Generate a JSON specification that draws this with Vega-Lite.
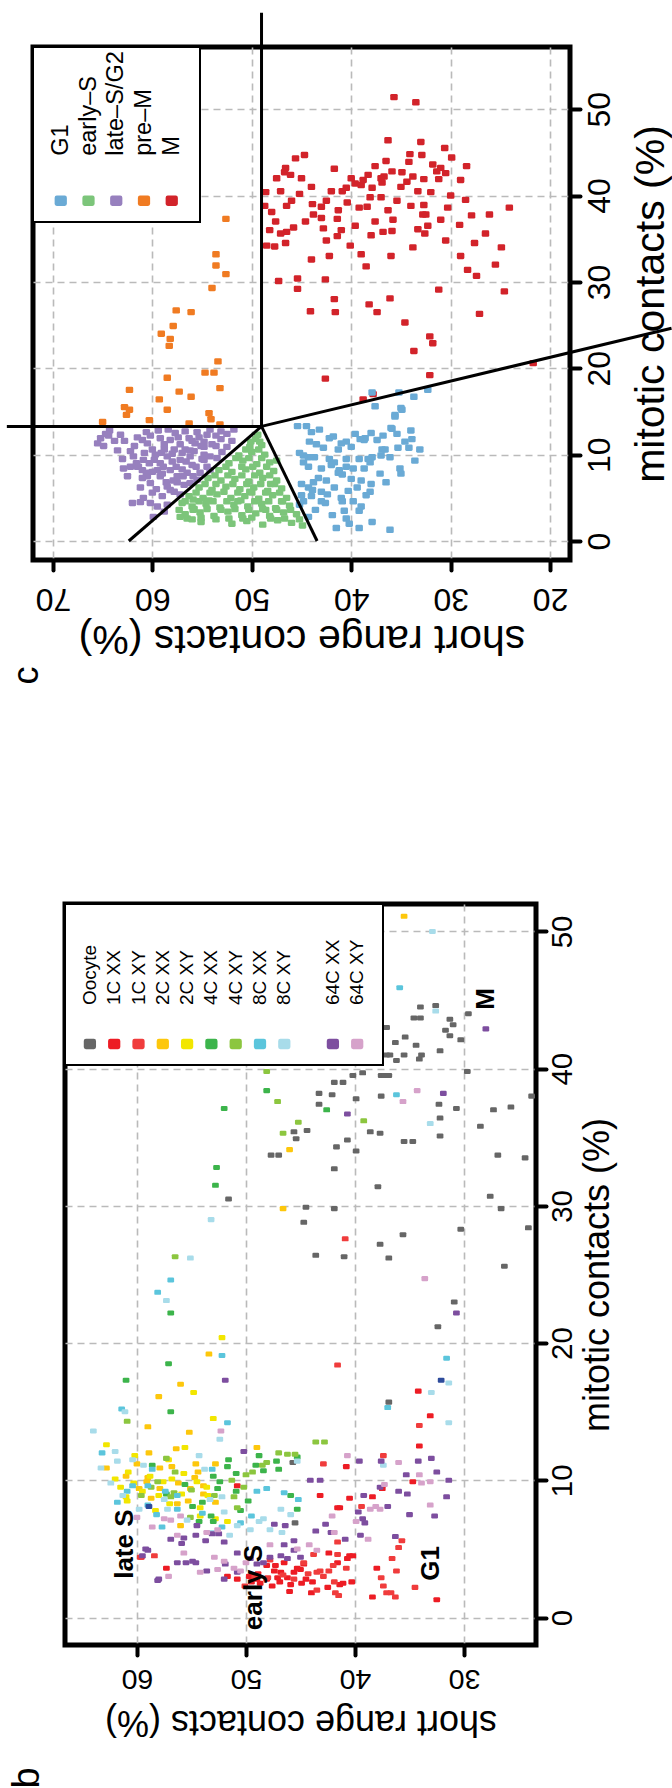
{
"$schema":"https://vega.github.io/schema/vega-lite/v6.json",
"background":"white",
"padding":{"left":2,"top":8,"right":0,"bottom":0},
"spacing":213,
"config":{
 "font":"Liberation Sans",
 "view":{"stroke":"black","strokeWidth":5},
 "axis":{"domain":false,"grid":true,"gridColor":"#bababa","gridDash":[7,5],"gridWidth":1.6,"tickColor":"black","tickWidth":4,"tickSize":10,"tickCap":"round","labelColor":"black","titleColor":"black","labelFont":"Liberation Sans","titleFont":"Liberation Sans","titleFontWeight":"normal","labelFlush":false,"labelOverlap":false,"labelBound":false},
 "title":{"font":"Liberation Sans","fontWeight":"normal","color":"black"}
},
"resolve":{"scale":{"x":"independent","y":"independent","color":"independent"},"axis":{"x":"independent","y":"independent"},"legend":{"color":"independent"}},
"vconcat":[
{
 "width":537,"height":513,
 "title":{"text":"c","orient":"bottom","anchor":"start","frame":"group","angle":270,"fontSize":36,"offset":14,"dx":-12,"dy":-23},
 "layer":[
 {"data":{"values":[
{"short":35.7,"mitotic":51.4,"phase":"M"},{"short":33.5,"mitotic":50.8,"phase":"M"},{"short":36.3,"mitotic":46.4,"phase":"M"},{"short":44.7,"mitotic":44.7,"phase":"M"},{"short":45.6,"mitotic":44.3,"phase":"M"},{"short":34.1,"mitotic":44.8,"phase":"M"},{"short":32.9,"mitotic":44.7,"phase":"M"},{"short":29.9,"mitotic":44.4,"phase":"M"},{"short":28.4,"mitotic":43.4,"phase":"M"},{"short":46.6,"mitotic":43.2,"phase":"M"},
{"short":46.7,"mitotic":42.7,"phase":"M"},{"short":46.1,"mitotic":42.4,"phase":"M"},{"short":47.5,"mitotic":42.0,"phase":"M"},{"short":45.0,"mitotic":42.0,"phase":"M"},{"short":41.7,"mitotic":43.1,"phase":"M"},{"short":38.3,"mitotic":42.4,"phase":"M"},{"short":37.6,"mitotic":43.4,"phase":"M"},{"short":36.7,"mitotic":42.2,"phase":"M"},{"short":35.9,"mitotic":42.8,"phase":"M"},{"short":34.2,"mitotic":43.9,"phase":"M"},
{"short":34.9,"mitotic":42.7,"phase":"M"},{"short":34.4,"mitotic":41.6,"phase":"M"},{"short":32.7,"mitotic":41.9,"phase":"M"},{"short":31.8,"mitotic":43.6,"phase":"M"},{"short":31.4,"mitotic":42.8,"phase":"M"},{"short":31.0,"mitotic":43.2,"phase":"M"},{"short":31.2,"mitotic":41.9,"phase":"M"},{"short":30.5,"mitotic":42.6,"phase":"M"},{"short":48.6,"mitotic":40.4,"phase":"M"},{"short":47.1,"mitotic":40.5,"phase":"M"},
{"short":48.7,"mitotic":38.8,"phase":"M"},{"short":48.0,"mitotic":38.1,"phase":"M"},{"short":43.9,"mitotic":39.0,"phase":"M"},{"short":43.0,"mitotic":38.7,"phase":"M"},{"short":43.8,"mitotic":37.8,"phase":"M"},{"short":43.0,"mitotic":37.4,"phase":"M"},{"short":42.5,"mitotic":39.4,"phase":"M"},{"short":41.3,"mitotic":38.3,"phase":"M"},{"short":40.9,"mitotic":40.5,"phase":"M"},{"short":40.5,"mitotic":40.9,"phase":"M"},
{"short":39.6,"mitotic":41.4,"phase":"M"},{"short":39.0,"mitotic":41.2,"phase":"M"},{"short":37.9,"mitotic":40.9,"phase":"M"},{"short":36.9,"mitotic":41.5,"phase":"M"},{"short":35.4,"mitotic":39.4,"phase":"M"},{"short":33.3,"mitotic":40.5,"phase":"M"},{"short":37.0,"mitotic":39.8,"phase":"M"},{"short":38.1,"mitotic":39.8,"phase":"M"},{"short":38.4,"mitotic":38.7,"phase":"M"},{"short":36.3,"mitotic":38.3,"phase":"M"},
{"short":32.7,"mitotic":38.9,"phase":"M"},{"short":32.5,"mitotic":37.8,"phase":"M"},{"short":31.0,"mitotic":37.2,"phase":"M"},{"short":29.1,"mitotic":36.6,"phase":"M"},{"short":27.9,"mitotic":37.7,"phase":"M"},{"short":26.1,"mitotic":37.8,"phase":"M"},{"short":24.1,"mitotic":38.6,"phase":"M"},{"short":39.6,"mitotic":36.5,"phase":"M"},{"short":41.4,"mitotic":37.3,"phase":"M"},{"short":42.5,"mitotic":34.8,"phase":"M"},
{"short":41.4,"mitotic":35.3,"phase":"M"},{"short":40.1,"mitotic":34.2,"phase":"M"},{"short":38.0,"mitotic":35.4,"phase":"M"},{"short":36.8,"mitotic":35.8,"phase":"M"},{"short":35.9,"mitotic":35.9,"phase":"M"},{"short":33.3,"mitotic":36.1,"phase":"M"},{"short":32.6,"mitotic":35.6,"phase":"M"},{"short":32.3,"mitotic":36.5,"phase":"M"},{"short":32.8,"mitotic":37.8,"phase":"M"},{"short":48.5,"mitotic":34.2,"phase":"M"},
{"short":47.7,"mitotic":34.1,"phase":"M"},{"short":46.6,"mitotic":34.5,"phase":"M"},{"short":45.8,"mitotic":36.3,"phase":"M"},{"short":46.5,"mitotic":35.8,"phase":"M"},{"short":47.1,"mitotic":35.6,"phase":"M"},{"short":38.5,"mitotic":31.8,"phase":"M"},{"short":42.2,"mitotic":33.0,"phase":"M"},{"short":28.3,"mitotic":31.4,"phase":"M"},{"short":27.4,"mitotic":30.7,"phase":"M"},{"short":27.6,"mitotic":34.5,"phase":"M"},
{"short":24.9,"mitotic":34.0,"phase":"M"},{"short":47.3,"mitotic":30.1,"phase":"M"},{"short":45.4,"mitotic":30.4,"phase":"M"},{"short":42.6,"mitotic":30.3,"phase":"M"},{"short":45.4,"mitotic":29.2,"phase":"M"},{"short":31.2,"mitotic":29.1,"phase":"M"},{"short":24.6,"mitotic":28.9,"phase":"M"},{"short":41.7,"mitotic":28.0,"phase":"M"},{"short":41.6,"mitotic":26.5,"phase":"M"},{"short":44.1,"mitotic":26.6,"phase":"M"},
{"short":38.2,"mitotic":27.4,"phase":"M"},{"short":37.4,"mitotic":26.5,"phase":"M"},{"short":36.1,"mitotic":28.1,"phase":"M"},{"short":34.6,"mitotic":25.3,"phase":"M"},{"short":27.1,"mitotic":26.3,"phase":"M"},{"short":32.1,"mitotic":23.7,"phase":"M"},{"short":31.8,"mitotic":22.9,"phase":"M"},{"short":33.7,"mitotic":22.0,"phase":"M"},{"short":32.1,"mitotic":19.2,"phase":"M"},{"short":42.6,"mitotic":18.8,"phase":"M"},
{"short":38.8,"mitotic":16.4,"phase":"M"},{"short":37.8,"mitotic":17.0,"phase":"M"},{"short":21.7,"mitotic":20.6,"phase":"M"},
{"short":40.0,"mitotic":42.0,"phase":"M"},{"short":38.8,"mitotic":41.8,"phase":"M"},{"short":37.0,"mitotic":42.0,"phase":"M"},{"short":35.0,"mitotic":41.0,"phase":"M"},{"short":33.8,"mitotic":42.2,"phase":"M"},{"short":32.0,"mitotic":40.4,"phase":"M"},{"short":30.0,"mitotic":40.0,"phase":"M"},{"short":29.0,"mitotic":41.8,"phase":"M"},{"short":28.5,"mitotic":39.5,"phase":"M"},{"short":30.3,"mitotic":38.6,"phase":"M"},
{"short":34.0,"mitotic":38.8,"phase":"M"},{"short":35.8,"mitotic":37.2,"phase":"M"},{"short":37.6,"mitotic":37.0,"phase":"M"},{"short":39.2,"mitotic":38.6,"phase":"M"},{"short":40.4,"mitotic":39.2,"phase":"M"},{"short":42.0,"mitotic":40.5,"phase":"M"},{"short":44.0,"mitotic":41.0,"phase":"M"},{"short":45.2,"mitotic":40.2,"phase":"M"},{"short":46.5,"mitotic":38.8,"phase":"M"},{"short":44.6,"mitotic":37.0,"phase":"M"},
{"short":42.8,"mitotic":36.2,"phase":"M"},{"short":41.0,"mitotic":36.0,"phase":"M"},{"short":39.0,"mitotic":33.2,"phase":"M"},{"short":36.0,"mitotic":33.0,"phase":"M"},{"short":33.8,"mitotic":34.0,"phase":"M"},{"short":30.5,"mitotic":34.8,"phase":"M"},{"short":29.0,"mitotic":33.0,"phase":"M"},{"short":26.5,"mitotic":35.6,"phase":"M"},{"short":25.5,"mitotic":32.0,"phase":"M"},{"short":44.0,"mitotic":32.6,"phase":"M"},
{"short":47.6,"mitotic":37.0,"phase":"M"},{"short":48.2,"mitotic":36.0,"phase":"M"},{"short":46.0,"mitotic":39.4,"phase":"M"},{"short":36.5,"mitotic":44.0,"phase":"M"},{"short":30.6,"mitotic":45.5,"phase":"M"},{"short":33.0,"mitotic":46.2,"phase":"M"},
{"short":52.6,"mitotic":37.3,"phase":"pre–M"},{"short":53.6,"mitotic":33.2,"phase":"pre–M"},{"short":53.6,"mitotic":31.9,"phase":"pre–M"},{"short":52.6,"mitotic":30.9,"phase":"pre–M"},{"short":54.0,"mitotic":29.3,"phase":"pre–M"},{"short":57.6,"mitotic":26.7,"phase":"pre–M"},{"short":56.1,"mitotic":26.5,"phase":"pre–M"},{"short":57.9,"mitotic":24.9,"phase":"pre–M"},{"short":59.1,"mitotic":24.0,"phase":"pre–M"},{"short":58.2,"mitotic":23.4,"phase":"pre–M"},
{"short":58.3,"mitotic":22.6,"phase":"pre–M"},{"short":53.4,"mitotic":20.8,"phase":"pre–M"},{"short":54.7,"mitotic":19.5,"phase":"pre–M"},{"short":53.8,"mitotic":19.5,"phase":"pre–M"},{"short":58.5,"mitotic":18.9,"phase":"pre–M"},{"short":62.3,"mitotic":17.5,"phase":"pre–M"},{"short":53.2,"mitotic":17.7,"phase":"pre–M"},{"short":57.3,"mitotic":17.3,"phase":"pre–M"},{"short":59.3,"mitotic":16.4,"phase":"pre–M"},{"short":56.1,"mitotic":16.7,"phase":"pre–M"},
{"short":58.5,"mitotic":15.2,"phase":"pre–M"},{"short":62.8,"mitotic":15.5,"phase":"pre–M"},{"short":62.3,"mitotic":15.2,"phase":"pre–M"},{"short":62.6,"mitotic":14.6,"phase":"pre–M"},{"short":60.3,"mitotic":14.0,"phase":"pre–M"},{"short":65.0,"mitotic":13.8,"phase":"pre–M"},{"short":56.3,"mitotic":13.6,"phase":"pre–M"},{"short":54.3,"mitotic":14.8,"phase":"pre–M"},{"short":54.1,"mitotic":14.1,"phase":"pre–M"},{"short":53.2,"mitotic":13.5,"phase":"pre–M"},
{"short":64.3,"mitotic":12.8,"phase":"late–S/G2"},{"short":63.2,"mitotic":12.3,"phase":"late–S/G2"},{"short":65.2,"mitotic":11.9,"phase":"late–S/G2"},{"short":65.5,"mitotic":11.3,"phase":"late–S/G2"},{"short":64.9,"mitotic":11.0,"phase":"late–S/G2"},{"short":64.4,"mitotic":12.2,"phase":"late–S/G2"},{"short":61.5,"mitotic":12.0,"phase":"late–S/G2"},{"short":60.2,"mitotic":12.2,"phase":"late–S/G2"},{"short":59.2,"mitotic":11.9,"phase":"late–S/G2"},{"short":58.2,"mitotic":11.7,"phase":"late–S/G2"},
{"short":57.7,"mitotic":12.5,"phase":"late–S/G2"},{"short":56.7,"mitotic":12.7,"phase":"late–S/G2"},{"short":55.3,"mitotic":12.0,"phase":"late–S/G2"},{"short":54.5,"mitotic":12.3,"phase":"late–S/G2"},{"short":53.1,"mitotic":12.7,"phase":"late–S/G2"},{"short":53.1,"mitotic":11.8,"phase":"late–S/G2"},{"short":52.5,"mitotic":10.9,"phase":"late–S/G2"},{"short":54.8,"mitotic":10.9,"phase":"late–S/G2"},{"short":55.7,"mitotic":11.3,"phase":"late–S/G2"},{"short":56.7,"mitotic":10.6,"phase":"late–S/G2"},
{"short":57.8,"mitotic":10.6,"phase":"late–S/G2"},{"short":58.8,"mitotic":10.6,"phase":"late–S/G2"},{"short":60.0,"mitotic":10.6,"phase":"late–S/G2"},{"short":60.5,"mitotic":11.3,"phase":"late–S/G2"},{"short":61.9,"mitotic":9.8,"phase":"late–S/G2"},{"short":62.2,"mitotic":8.6,"phase":"late–S/G2"},{"short":61.4,"mitotic":8.6,"phase":"late–S/G2"},{"short":60.9,"mitotic":9.4,"phase":"late–S/G2"},{"short":59.8,"mitotic":9.4,"phase":"late–S/G2"},{"short":59.2,"mitotic":9.0,"phase":"late–S/G2"},
{"short":58.5,"mitotic":9.8,"phase":"late–S/G2"},{"short":57.2,"mitotic":9.4,"phase":"late–S/G2"},{"short":56.2,"mitotic":9.8,"phase":"late–S/G2"},{"short":54.8,"mitotic":9.4,"phase":"late–S/G2"},{"short":54.2,"mitotic":9.8,"phase":"late–S/G2"},{"short":53.5,"mitotic":9.6,"phase":"late–S/G2"},{"short":58.2,"mitotic":8.2,"phase":"late–S/G2"},{"short":59.5,"mitotic":8.2,"phase":"late–S/G2"},{"short":60.5,"mitotic":7.5,"phase":"late–S/G2"},{"short":61.0,"mitotic":7.3,"phase":"late–S/G2"},
{"short":60.2,"mitotic":6.7,"phase":"late–S/G2"},{"short":59.2,"mitotic":7.5,"phase":"late–S/G2"},{"short":57.5,"mitotic":7.5,"phase":"late–S/G2"},{"short":56.5,"mitotic":7.9,"phase":"late–S/G2"},{"short":55.2,"mitotic":7.9,"phase":"late–S/G2"},{"short":54.2,"mitotic":8.2,"phase":"late–S/G2"},{"short":58.5,"mitotic":6.3,"phase":"late–S/G2"},{"short":57.8,"mitotic":5.7,"phase":"late–S/G2"},{"short":56.8,"mitotic":6.5,"phase":"late–S/G2"},{"short":57.2,"mitotic":5.4,"phase":"late–S/G2"},
{"short":58.2,"mitotic":5.9,"phase":"late–S/G2"},{"short":60.9,"mitotic":5.0,"phase":"late–S/G2"},{"short":62.0,"mitotic":4.4,"phase":"late–S/G2"},{"short":61.2,"mitotic":4.5,"phase":"late–S/G2"},{"short":60.2,"mitotic":4.4,"phase":"late–S/G2"},{"short":59.5,"mitotic":4.0,"phase":"late–S/G2"},{"short":58.5,"mitotic":4.2,"phase":"late–S/G2"},{"short":59.9,"mitotic":2.8,"phase":"late–S/G2"},{"short":58.8,"mitotic":3.4,"phase":"late–S/G2"},{"short":56.2,"mitotic":6.7,"phase":"late–S/G2"},
{"short":55.5,"mitotic":7.1,"phase":"late–S/G2"},{"short":54.5,"mitotic":8.6,"phase":"late–S/G2"},{"short":59.7,"mitotic":10.0,"phase":"late–S/G2"},{"short":61.5,"mitotic":8.6,"phase":"late–S/G2"},{"short":62.9,"mitotic":8.4,"phase":"late–S/G2"},{"short":57.0,"mitotic":10.2,"phase":"late–S/G2"},{"short":58.0,"mitotic":9.2,"phase":"late–S/G2"},{"short":56.0,"mitotic":8.8,"phase":"late–S/G2"},{"short":59.0,"mitotic":7.8,"phase":"late–S/G2"},{"short":57.5,"mitotic":6.8,"phase":"late–S/G2"},
{"short":55.8,"mitotic":10.4,"phase":"late–S/G2"},{"short":54.8,"mitotic":11.5,"phase":"late–S/G2"},{"short":58.8,"mitotic":11.2,"phase":"late–S/G2"},{"short":60.8,"mitotic":10.2,"phase":"late–S/G2"},{"short":61.8,"mitotic":11.0,"phase":"late–S/G2"},
{"short":63.5,"mitotic":10.5,"phase":"late–S/G2"},{"short":62.8,"mitotic":11.6,"phase":"late–S/G2"},{"short":63.0,"mitotic":9.5,"phase":"late–S/G2"},{"short":62.5,"mitotic":7.5,"phase":"late–S/G2"},{"short":61.2,"mitotic":6.2,"phase":"late–S/G2"},{"short":60.0,"mitotic":5.6,"phase":"late–S/G2"},{"short":59.0,"mitotic":5.2,"phase":"late–S/G2"},{"short":61.0,"mitotic":11.7,"phase":"late–S/G2"},{"short":60.3,"mitotic":9.0,"phase":"late–S/G2"},{"short":59.1,"mitotic":10.2,"phase":"late–S/G2"},
{"short":58.0,"mitotic":10.1,"phase":"late–S/G2"},{"short":57.2,"mitotic":11.2,"phase":"late–S/G2"},{"short":56.3,"mitotic":11.9,"phase":"late–S/G2"},{"short":55.5,"mitotic":12.6,"phase":"late–S/G2"},{"short":54.0,"mitotic":11.2,"phase":"late–S/G2"},{"short":53.6,"mitotic":11.0,"phase":"late–S/G2"},{"short":52.5,"mitotic":12.4,"phase":"late–S/G2"},{"short":51.8,"mitotic":12.9,"phase":"late–S/G2"},{"short":52.0,"mitotic":11.6,"phase":"late–S/G2"},{"short":53.0,"mitotic":10.3,"phase":"late–S/G2"},
{"short":54.8,"mitotic":10.0,"phase":"late–S/G2"},{"short":56.2,"mitotic":10.5,"phase":"late–S/G2"},{"short":57.6,"mitotic":8.6,"phase":"late–S/G2"},{"short":56.6,"mitotic":9.2,"phase":"late–S/G2"},{"short":55.6,"mitotic":8.6,"phase":"late–S/G2"},{"short":55.0,"mitotic":9.5,"phase":"late–S/G2"},{"short":58.6,"mitotic":6.8,"phase":"late–S/G2"},{"short":59.6,"mitotic":6.0,"phase":"late–S/G2"},{"short":60.6,"mitotic":7.9,"phase":"late–S/G2"},{"short":61.6,"mitotic":9.0,"phase":"late–S/G2"},
{"short":62.2,"mitotic":10.4,"phase":"late–S/G2"},{"short":60.6,"mitotic":12.6,"phase":"late–S/G2"},{"short":59.4,"mitotic":12.8,"phase":"late–S/G2"},{"short":58.4,"mitotic":12.9,"phase":"late–S/G2"},{"short":57.4,"mitotic":12.0,"phase":"late–S/G2"},{"short":56.0,"mitotic":11.6,"phase":"late–S/G2"},{"short":54.2,"mitotic":12.9,"phase":"late–S/G2"},{"short":53.6,"mitotic":12.2,"phase":"late–S/G2"},{"short":57.9,"mitotic":7.0,"phase":"late–S/G2"},{"short":56.9,"mitotic":7.5,"phase":"late–S/G2"},
{"short":55.9,"mitotic":7.5,"phase":"late–S/G2"},{"short":57.0,"mitotic":8.3,"phase":"late–S/G2"},{"short":55.1,"mitotic":11.0,"phase":"late–S/G2"},{"short":58.9,"mitotic":8.6,"phase":"late–S/G2"},{"short":60.0,"mitotic":8.0,"phase":"late–S/G2"},{"short":61.0,"mitotic":8.2,"phase":"late–S/G2"},{"short":63.8,"mitotic":11.6,"phase":"late–S/G2"},{"short":64.7,"mitotic":12.4,"phase":"late–S/G2"},
{"short":46.0,"mitotic":2.1,"phase":"early–S"},{"short":47.4,"mitotic":2.4,"phase":"early–S"},{"short":48.9,"mitotic":1.9,"phase":"early–S"},{"short":50.5,"mitotic":2.3,"phase":"early–S"},{"short":52.0,"mitotic":2.0,"phase":"early–S"},{"short":53.6,"mitotic":2.5,"phase":"early–S"},{"short":55.1,"mitotic":2.2,"phase":"early–S"},{"short":56.5,"mitotic":2.6,"phase":"early–S"},
{"short":45.5,"mitotic":3.1,"phase":"early–S"},{"short":46.8,"mitotic":3.3,"phase":"early–S"},{"short":48.2,"mitotic":2.9,"phase":"early–S"},{"short":49.6,"mitotic":3.2,"phase":"early–S"},{"short":51.0,"mitotic":3.0,"phase":"early–S"},{"short":52.4,"mitotic":3.4,"phase":"early–S"},{"short":53.8,"mitotic":2.9,"phase":"early–S"},{"short":55.2,"mitotic":3.3,"phase":"early–S"},{"short":56.7,"mitotic":3.1,"phase":"early–S"},
{"short":46.2,"mitotic":4.1,"phase":"early–S"},{"short":47.6,"mitotic":3.8,"phase":"early–S"},{"short":49.0,"mitotic":4.3,"phase":"early–S"},{"short":50.4,"mitotic":4.0,"phase":"early–S"},{"short":51.8,"mitotic":4.2,"phase":"early–S"},{"short":53.2,"mitotic":3.9,"phase":"early–S"},{"short":54.6,"mitotic":4.3,"phase":"early–S"},{"short":56.0,"mitotic":4.0,"phase":"early–S"},{"short":57.0,"mitotic":4.4,"phase":"early–S"},
{"short":46.5,"mitotic":5.0,"phase":"early–S"},{"short":47.9,"mitotic":5.3,"phase":"early–S"},{"short":49.3,"mitotic":4.9,"phase":"early–S"},{"short":50.7,"mitotic":5.2,"phase":"early–S"},{"short":52.1,"mitotic":5.0,"phase":"early–S"},{"short":53.5,"mitotic":5.4,"phase":"early–S"},{"short":54.9,"mitotic":5.0,"phase":"early–S"},{"short":56.3,"mitotic":5.2,"phase":"early–S"},
{"short":47.0,"mitotic":6.1,"phase":"early–S"},{"short":48.4,"mitotic":5.8,"phase":"early–S"},{"short":49.8,"mitotic":6.2,"phase":"early–S"},{"short":51.2,"mitotic":6.0,"phase":"early–S"},{"short":52.6,"mitotic":6.3,"phase":"early–S"},{"short":54.0,"mitotic":5.9,"phase":"early–S"},{"short":55.3,"mitotic":6.2,"phase":"early–S"},
{"short":47.5,"mitotic":7.0,"phase":"early–S"},{"short":48.9,"mitotic":7.3,"phase":"early–S"},{"short":50.3,"mitotic":6.9,"phase":"early–S"},{"short":51.7,"mitotic":7.2,"phase":"early–S"},{"short":53.1,"mitotic":7.0,"phase":"early–S"},{"short":54.4,"mitotic":7.3,"phase":"early–S"},
{"short":47.8,"mitotic":8.1,"phase":"early–S"},{"short":49.2,"mitotic":7.9,"phase":"early–S"},{"short":50.6,"mitotic":8.3,"phase":"early–S"},{"short":52.0,"mitotic":8.0,"phase":"early–S"},{"short":53.3,"mitotic":8.2,"phase":"early–S"},
{"short":48.2,"mitotic":9.1,"phase":"early–S"},{"short":49.5,"mitotic":8.9,"phase":"early–S"},{"short":50.9,"mitotic":9.3,"phase":"early–S"},{"short":52.3,"mitotic":9.0,"phase":"early–S"},
{"short":48.7,"mitotic":10.0,"phase":"early–S"},{"short":50.0,"mitotic":10.3,"phase":"early–S"},{"short":51.3,"mitotic":9.9,"phase":"early–S"},{"short":49.0,"mitotic":11.1,"phase":"early–S"},{"short":50.2,"mitotic":10.9,"phase":"early–S"},{"short":49.6,"mitotic":11.8,"phase":"early–S"},{"short":49.4,"mitotic":12.3,"phase":"early–S"},
{"short":45.2,"mitotic":2.5,"phase":"early–S"},{"short":47.0,"mitotic":4.6,"phase":"early–S"},{"short":48.6,"mitotic":3.6,"phase":"early–S"},{"short":50.0,"mitotic":2.7,"phase":"early–S"},{"short":51.4,"mitotic":4.6,"phase":"early–S"},{"short":52.8,"mitotic":5.7,"phase":"early–S"},{"short":54.3,"mitotic":4.7,"phase":"early–S"},{"short":55.8,"mitotic":3.7,"phase":"early–S"},{"short":57.2,"mitotic":2.8,"phase":"early–S"},{"short":48.1,"mitotic":6.6,"phase":"early–S"},
{"short":49.7,"mitotic":7.6,"phase":"early–S"},{"short":51.0,"mitotic":8.6,"phase":"early–S"},{"short":53.6,"mitotic":6.6,"phase":"early–S"},{"short":50.2,"mitotic":5.7,"phase":"early–S"},{"short":47.5,"mitotic":9.3,"phase":"early–S"},{"short":55.9,"mitotic":4.8,"phase":"early–S"},{"short":44.9,"mitotic":1.8,"phase":"early–S"},
{"short":46.7,"mitotic":2.6,"phase":"early–S"},{"short":48.1,"mitotic":2.6,"phase":"early–S"},{"short":50.9,"mitotic":2.6,"phase":"early–S"},{"short":52.3,"mitotic":2.6,"phase":"early–S"},{"short":55.1,"mitotic":2.7,"phase":"early–S"},{"short":56.0,"mitotic":2.5,"phase":"early–S"},
{"short":46.1,"mitotic":3.6,"phase":"early–S"},{"short":47.5,"mitotic":3.6,"phase":"early–S"},{"short":48.9,"mitotic":3.7,"phase":"early–S"},{"short":50.3,"mitotic":3.6,"phase":"early–S"},{"short":51.7,"mitotic":3.7,"phase":"early–S"},{"short":53.1,"mitotic":3.6,"phase":"early–S"},{"short":54.5,"mitotic":3.7,"phase":"early–S"},{"short":55.9,"mitotic":3.6,"phase":"early–S"},{"short":57.3,"mitotic":3.6,"phase":"early–S"},
{"short":46.9,"mitotic":4.6,"phase":"early–S"},{"short":48.3,"mitotic":4.6,"phase":"early–S"},{"short":49.7,"mitotic":4.6,"phase":"early–S"},{"short":51.1,"mitotic":4.7,"phase":"early–S"},{"short":52.5,"mitotic":4.6,"phase":"early–S"},{"short":53.9,"mitotic":4.6,"phase":"early–S"},{"short":55.3,"mitotic":4.6,"phase":"early–S"},{"short":56.7,"mitotic":4.6,"phase":"early–S"},
{"short":47.2,"mitotic":5.6,"phase":"early–S"},{"short":48.6,"mitotic":5.6,"phase":"early–S"},{"short":50.0,"mitotic":5.6,"phase":"early–S"},{"short":51.4,"mitotic":5.6,"phase":"early–S"},{"short":54.2,"mitotic":5.6,"phase":"early–S"},{"short":55.6,"mitotic":5.6,"phase":"early–S"},
{"short":47.7,"mitotic":6.6,"phase":"early–S"},{"short":49.1,"mitotic":6.6,"phase":"early–S"},{"short":50.5,"mitotic":6.6,"phase":"early–S"},{"short":51.9,"mitotic":6.6,"phase":"early–S"},{"short":54.7,"mitotic":6.6,"phase":"early–S"},
{"short":48.2,"mitotic":7.6,"phase":"early–S"},{"short":51.0,"mitotic":7.6,"phase":"early–S"},{"short":52.4,"mitotic":7.6,"phase":"early–S"},{"short":53.7,"mitotic":7.6,"phase":"early–S"},
{"short":48.5,"mitotic":8.6,"phase":"early–S"},{"short":49.9,"mitotic":8.6,"phase":"early–S"},{"short":52.6,"mitotic":8.6,"phase":"early–S"},{"short":49.0,"mitotic":9.6,"phase":"early–S"},{"short":50.3,"mitotic":9.6,"phase":"early–S"},{"short":51.6,"mitotic":9.6,"phase":"early–S"},{"short":49.3,"mitotic":10.6,"phase":"early–S"},{"short":50.6,"mitotic":10.6,"phase":"early–S"},{"short":49.2,"mitotic":11.5,"phase":"early–S"},{"short":50.1,"mitotic":11.5,"phase":"early–S"},
{"short":45.4,"mitotic":13.3,"phase":"G1"},{"short":44.5,"mitotic":13.3,"phase":"G1"},{"short":44.2,"mitotic":11.5,"phase":"G1"},{"short":42.2,"mitotic":11.9,"phase":"G1"},{"short":41.8,"mitotic":12.1,"phase":"G1"},{"short":40.5,"mitotic":11.5,"phase":"G1"},{"short":38.7,"mitotic":11.7,"phase":"G1"},{"short":38.6,"mitotic":11.9,"phase":"G1"},{"short":37.4,"mitotic":11.7,"phase":"G1"},{"short":35.9,"mitotic":13.0,"phase":"G1"},
{"short":34.9,"mitotic":15.2,"phase":"G1"},{"short":35.6,"mitotic":14.4,"phase":"G1"},{"short":33.9,"mitotic":11.8,"phase":"G1"},{"short":34.2,"mitotic":10.8,"phase":"G1"},{"short":33.1,"mitotic":10.6,"phase":"G1"},{"short":34.6,"mitotic":11.5,"phase":"G1"},{"short":36.6,"mitotic":10.6,"phase":"G1"},{"short":37.0,"mitotic":9.9,"phase":"G1"},{"short":37.9,"mitotic":9.7,"phase":"G1"},{"short":38.3,"mitotic":9.5,"phase":"G1"},
{"short":39.2,"mitotic":9.5,"phase":"G1"},{"short":40.5,"mitotic":9.5,"phase":"G1"},{"short":42.2,"mitotic":9.5,"phase":"G1"},{"short":43.7,"mitotic":9.7,"phase":"G1"},{"short":44.3,"mitotic":9.7,"phase":"G1"},{"short":44.8,"mitotic":9.9,"phase":"G1"},{"short":45.2,"mitotic":10.2,"phase":"G1"},{"short":37.9,"mitotic":17.2,"phase":"G1"},{"short":35.2,"mitotic":17.2,"phase":"G1"},{"short":33.7,"mitotic":16.7,"phase":"G1"},
{"short":32.3,"mitotic":17.5,"phase":"G1"},{"short":37.6,"mitotic":15.6,"phase":"G1"},{"short":44.8,"mitotic":9.1,"phase":"G1"},{"short":44.3,"mitotic":8.6,"phase":"G1"},{"short":43.0,"mitotic":8.4,"phase":"G1"},{"short":41.7,"mitotic":9.1,"phase":"G1"},{"short":43.3,"mitotic":7.3,"phase":"G1"},{"short":41.3,"mitotic":7.9,"phase":"G1"},{"short":40.9,"mitotic":7.7,"phase":"G1"},{"short":40.5,"mitotic":8.6,"phase":"G1"},
{"short":39.8,"mitotic":8.4,"phase":"G1"},{"short":38.7,"mitotic":8.4,"phase":"G1"},{"short":38.1,"mitotic":9.1,"phase":"G1"},{"short":37.1,"mitotic":7.8,"phase":"G1"},{"short":45.0,"mitotic":6.6,"phase":"G1"},{"short":44.3,"mitotic":6.2,"phase":"G1"},{"short":43.9,"mitotic":5.9,"phase":"G1"},{"short":43.0,"mitotic":5.7,"phase":"G1"},{"short":41.7,"mitotic":6.2,"phase":"G1"},{"short":39.4,"mitotic":6.2,"phase":"G1"},
{"short":38.1,"mitotic":5.7,"phase":"G1"},{"short":38.5,"mitotic":5.3,"phase":"G1"},{"short":44.8,"mitotic":4.6,"phase":"G1"},{"short":43.0,"mitotic":4.6,"phase":"G1"},{"short":42.6,"mitotic":4.4,"phase":"G1"},{"short":40.9,"mitotic":4.6,"phase":"G1"},{"short":39.8,"mitotic":4.6,"phase":"G1"},{"short":40.7,"mitotic":3.5,"phase":"G1"},{"short":39.2,"mitotic":3.5,"phase":"G1"},{"short":40.5,"mitotic":2.6,"phase":"G1"},
{"short":40.2,"mitotic":2.0,"phase":"G1"},{"short":41.5,"mitotic":1.5,"phase":"G1"},{"short":39.2,"mitotic":1.5,"phase":"G1"},{"short":37.9,"mitotic":2.2,"phase":"G1"},{"short":36.1,"mitotic":1.3,"phase":"G1"},{"short":44.3,"mitotic":2.8,"phase":"G1"},{"short":45.2,"mitotic":4.2,"phase":"G1"},{"short":36.1,"mitotic":9.7,"phase":"G1"},{"short":35.1,"mitotic":8.4,"phase":"G1"},{"short":35.0,"mitotic":7.8,"phase":"G1"},
{"short":33.6,"mitotic":9.3,"phase":"G1"},{"short":35.3,"mitotic":10.8,"phase":"G1"},{"short":36.9,"mitotic":10.6,"phase":"G1"},{"short":35.0,"mitotic":15.4,"phase":"G1"},{"short":35.6,"mitotic":14.6,"phase":"G1"},{"short":36.0,"mitotic":13.1,"phase":"G1"},{"short":39.1,"mitotic":11.8,"phase":"G1"},
{"short":44.0,"mitotic":12.6,"phase":"G1"},{"short":43.2,"mitotic":12.9,"phase":"G1"},{"short":42.8,"mitotic":10.8,"phase":"G1"},{"short":41.3,"mitotic":10.6,"phase":"G1"},{"short":40.0,"mitotic":10.9,"phase":"G1"},{"short":39.6,"mitotic":12.4,"phase":"G1"},{"short":38.0,"mitotic":12.5,"phase":"G1"},{"short":36.8,"mitotic":12.2,"phase":"G1"},{"short":35.4,"mitotic":12.4,"phase":"G1"},{"short":34.0,"mitotic":12.8,"phase":"G1"},
{"short":41.0,"mitotic":11.3,"phase":"G1"},{"short":43.5,"mitotic":11.2,"phase":"G1"},{"short":42.0,"mitotic":8.8,"phase":"G1"},{"short":41.2,"mitotic":8.2,"phase":"G1"},{"short":43.8,"mitotic":6.8,"phase":"G1"},{"short":42.5,"mitotic":7.0,"phase":"G1"},{"short":40.0,"mitotic":7.2,"phase":"G1"},{"short":39.0,"mitotic":7.0,"phase":"G1"},{"short":38.0,"mitotic":6.6,"phase":"G1"},{"short":36.5,"mitotic":6.8,"phase":"G1"},
{"short":44.0,"mitotic":5.2,"phase":"G1"},{"short":42.4,"mitotic":5.4,"phase":"G1"},{"short":41.0,"mitotic":5.0,"phase":"G1"},{"short":40.3,"mitotic":5.8,"phase":"G1"},{"short":39.0,"mitotic":4.0,"phase":"G1"},{"short":41.9,"mitotic":3.0,"phase":"G1"},{"short":43.6,"mitotic":3.6,"phase":"G1"},{"short":45.0,"mitotic":5.3,"phase":"G1"}
 ]},
 "mark":{"type":"point","filled":true,"opacity":1,"strokeWidth":0,"size":56,"shape":"M-0.65,-0.85L0.65,-0.85Q1,-0.85 1,-0.5L1,0.5Q1,0.85 0.65,0.85L-0.65,0.85Q-1,0.85 -1,0.5L-1,-0.5Q-1,-0.85 -0.65,-0.85Z"},
 "encoding":{
  "x":{"field":"short","type":"quantitative","scale":{"domain":[18,72],"reverse":true,"nice":false,"zero":false},
   "axis":{"title":"short range contacts (%)","values":[20,30,40,50,60,70],"labelAngle":180,"labelFontSize":32,"labelPadding":11.5,"titleFontSize":41,"titleAngle":180,"titleBaseline":"bottom","titlePadding":2}},
  "y":{"field":"mitotic","type":"quantitative","scale":{"domain":[-2.2,57.2],"nice":false,"zero":false},
   "axis":{"orient":"right","title":"mitotic contacts (%)","values":[0,10,20,30,40,50],"labelAngle":270,"labelFontSize":32,"labelPadding":4,"titleFontSize":41,"titleAngle":270,"titleBaseline":"top","titlePadding":16}},
  "color":{"field":"phase","type":"nominal",
   "scale":{"domain":["G1","early–S","late–S/G2","pre–M","M"],"range":["#6aaad5","#7cc57a","#9780be","#f07b22","#d2232a"]},
   "legend":{"orient":"top-left","offset":0,"direction":"horizontal","title":" ","titleFontSize":1,"titlePadding":125,"padding":16,"labelFontSize":23.5,"labelLimit":300,"labelFont":"Liberation Sans","labelColor":"black","labelOffset":-11.75,"columnPadding":2.75,"symbolType":"M-0.65,-0.85L0.65,-0.85Q1,-0.85 1,-0.5L1,0.5Q1,0.85 0.65,0.85L-0.65,0.85Q-1,0.85 -1,0.5L-1,-0.5Q-1,-0.85 -0.65,-0.85Z","symbolSize":150,"symbolOpacity":1,"symbolStrokeWidth":0,"strokeColor":"black","fillColor":"white",
    "encoding":{"labels":{"angle":{"value":270},"dx":{"value":45},"fontSize":{"value":23.5}},"symbols":{"size":{"value":150}},"legend":{"strokeWidth":{"value":2}}}}}
 }},
 {"data":{"values":[
  {"s1":49.02,"m1":13.27,"s2":49.02,"m2":61.16},
  {"s1":74.63,"m1":13.27,"s2":49.02,"m2":13.27},
  {"s1":49.02,"m1":13.27,"s2":62.37,"m2":0},
  {"s1":49.02,"m1":13.27,"s2":43.43,"m2":0},
  {"s1":49.02,"m1":13.27,"s2":7.79,"m2":24.64}
 ]},
 "mark":{"type":"rule","color":"black","strokeWidth":3},
 "encoding":{"x":{"field":"s1","type":"quantitative"},"y":{"field":"m1","type":"quantitative"},"x2":{"field":"s2"},"y2":{"field":"m2"}}}
 ]
},
{
 "hconcat":[
  {"width":32,"height":10,"view":{"stroke":null},"data":{"values":[]},"mark":"point"},
  {
   "width":471,"height":741,
   "title":{"text":"b","orient":"bottom","anchor":"start","frame":"group","angle":270,"fontSize":38,"offset":14,"dx":-35,"dy":-56},
   "layer":[
   {"data":{"values":[
{"short":34.0,"mitotic":44.5,"stage":"Oocyte"},{"short":32.6,"mitotic":44.6,"stage":"Oocyte"},{"short":34.6,"mitotic":43.7,"stage":"Oocyte"},{"short":34.0,"mitotic":43.7,"stage":"Oocyte"},{"short":31.3,"mitotic":43.6,"stage":"Oocyte"},{"short":31.0,"mitotic":43.2,"stage":"Oocyte"},{"short":31.7,"mitotic":42.8,"stage":"Oocyte"},{"short":31.3,"mitotic":42.4,"stage":"Oocyte"},{"short":30.3,"mitotic":42.1,"stage":"Oocyte"},{"short":29.6,"mitotic":44.0,"stage":"Oocyte"},
{"short":35.4,"mitotic":42.3,"stage":"Oocyte"},{"short":36.3,"mitotic":41.9,"stage":"Oocyte"},{"short":34.4,"mitotic":41.7,"stage":"Oocyte"},{"short":32.2,"mitotic":41.3,"stage":"Oocyte"},{"short":33.9,"mitotic":41.0,"stage":"Oocyte"},{"short":34.1,"mitotic":40.7,"stage":"Oocyte"},{"short":35.5,"mitotic":41.0,"stage":"Oocyte"},{"short":36.2,"mitotic":40.6,"stage":"Oocyte"},{"short":37.1,"mitotic":43.0,"stage":"Oocyte"},{"short":37.1,"mitotic":41.0,"stage":"Oocyte"},
{"short":36.8,"mitotic":41.0,"stage":"Oocyte"},{"short":29.7,"mitotic":39.8,"stage":"Oocyte"},{"short":37.6,"mitotic":39.5,"stage":"Oocyte"},{"short":37.3,"mitotic":39.5,"stage":"Oocyte"},{"short":36.9,"mitotic":39.5,"stage":"Oocyte"},{"short":40.2,"mitotic":39.5,"stage":"Oocyte"},{"short":39.3,"mitotic":39.7,"stage":"Oocyte"},{"short":41.1,"mitotic":39.0,"stage":"Oocyte"},{"short":37.6,"mitotic":38.0,"stage":"Oocyte"},{"short":39.9,"mitotic":37.8,"stage":"Oocyte"},
{"short":32.3,"mitotic":37.4,"stage":"Oocyte"},{"short":30.7,"mitotic":37.1,"stage":"Oocyte"},{"short":32.2,"mitotic":36.4,"stage":"Oocyte"},{"short":27.3,"mitotic":37.0,"stage":"Oocyte"},{"short":25.7,"mitotic":37.2,"stage":"Oocyte"},{"short":28.5,"mitotic":35.8,"stage":"Oocyte"},{"short":23.8,"mitotic":38.0,"stage":"Oocyte"},{"short":38.6,"mitotic":35.4,"stage":"Oocyte"},{"short":37.7,"mitotic":35.3,"stage":"Oocyte"},{"short":40.7,"mitotic":34.8,"stage":"Oocyte"},
{"short":35.5,"mitotic":34.7,"stage":"Oocyte"},{"short":34.7,"mitotic":34.7,"stage":"Oocyte"},{"short":32.2,"mitotic":35.1,"stage":"Oocyte"},{"short":39.9,"mitotic":34.0,"stage":"Oocyte"},{"short":26.9,"mitotic":33.7,"stage":"Oocyte"},{"short":24.4,"mitotic":33.5,"stage":"Oocyte"},{"short":37.9,"mitotic":31.4,"stage":"Oocyte"},{"short":27.6,"mitotic":30.7,"stage":"Oocyte"},{"short":26.6,"mitotic":29.8,"stage":"Oocyte"},{"short":24.1,"mitotic":28.4,"stage":"Oocyte"},
{"short":30.3,"mitotic":28.3,"stage":"Oocyte"},{"short":35.6,"mitotic":27.9,"stage":"Oocyte"},{"short":37.7,"mitotic":27.2,"stage":"Oocyte"},{"short":36.9,"mitotic":26.2,"stage":"Oocyte"},{"short":41.0,"mitotic":26.3,"stage":"Oocyte"},{"short":26.3,"mitotic":25.6,"stage":"Oocyte"},{"short":30.9,"mitotic":23.0,"stage":"Oocyte"},{"short":32.4,"mitotic":21.2,"stage":"Oocyte"},{"short":36.9,"mitotic":15.7,"stage":"Oocyte"},{"short":47.7,"mitotic":33.7,"stage":"Oocyte"},
{"short":47.0,"mitotic":33.7,"stage":"Oocyte"},{"short":51.6,"mitotic":30.5,"stage":"Oocyte"},{"short":44.5,"mitotic":29.9,"stage":"Oocyte"},{"short":41.9,"mitotic":29.8,"stage":"Oocyte"},{"short":44.7,"mitotic":28.8,"stage":"Oocyte"},{"short":43.6,"mitotic":26.4,"stage":"Oocyte"},{"short":45.7,"mitotic":11.3,"stage":"Oocyte"},{"short":45.5,"mitotic":6.9,"stage":"Oocyte"},{"short":43.3,"mitotic":38.2,"stage":"Oocyte"},{"short":41.9,"mitotic":39.0,"stage":"Oocyte"},
{"short":43.3,"mitotic":37.4,"stage":"Oocyte"},{"short":45.6,"mitotic":35.4,"stage":"Oocyte"},{"short":45.4,"mitotic":34.9,"stage":"Oocyte"},{"short":41.7,"mitotic":34.3,"stage":"Oocyte"},{"short":41.9,"mitotic":32.7,"stage":"Oocyte"},{"short":44.4,"mitotic":35.5,"stage":"Oocyte"},{"short":42.1,"mitotic":38.1,"stage":"Oocyte"},
{"short":34.2,"mitotic":16.5,"stage":"1C XX"},{"short":33.1,"mitotic":14.7,"stage":"1C XX"},{"short":34.1,"mitotic":12.5,"stage":"1C XX"},{"short":40.8,"mitotic":11.0,"stage":"1C XX"},{"short":34.7,"mitotic":9.9,"stage":"1C XX"},{"short":37.5,"mitotic":9.4,"stage":"1C XX"},{"short":38.4,"mitotic":8.8,"stage":"1C XX"},{"short":40.5,"mitotic":8.7,"stage":"1C XX"},{"short":41.4,"mitotic":8.0,"stage":"1C XX"},{"short":40.7,"mitotic":4.3,"stage":"1C XX"},
{"short":40.5,"mitotic":4.5,"stage":"1C XX"},{"short":40.2,"mitotic":4.5,"stage":"1C XX"},{"short":38.0,"mitotic":3.6,"stage":"1C XX"},{"short":40.3,"mitotic":2.6,"stage":"1C XX"},{"short":38.4,"mitotic":1.5,"stage":"1C XX"},{"short":32.5,"mitotic":1.3,"stage":"1C XX"},{"short":41.4,"mitotic":2.4,"stage":"1C XX"},{"short":59.6,"mitotic":4.4,"stage":"1C XX"},{"short":57.3,"mitotic":3.6,"stage":"1C XX"},{"short":51.7,"mitotic":3.0,"stage":"1C XX"},
{"short":50.8,"mitotic":2.8,"stage":"1C XX"},{"short":49.7,"mitotic":3.0,"stage":"1C XX"},{"short":48.1,"mitotic":3.8,"stage":"1C XX"},{"short":47.4,"mitotic":3.4,"stage":"1C XX"},{"short":46.8,"mitotic":3.3,"stage":"1C XX"},{"short":46.2,"mitotic":2.9,"stage":"1C XX"},{"short":45.6,"mitotic":3.3,"stage":"1C XX"},{"short":45.0,"mitotic":3.5,"stage":"1C XX"},{"short":44.7,"mitotic":3.9,"stage":"1C XX"},{"short":46.5,"mitotic":4.0,"stage":"1C XX"},
{"short":47.1,"mitotic":2.9,"stage":"1C XX"},{"short":48.1,"mitotic":2.8,"stage":"1C XX"},{"short":49.0,"mitotic":2.8,"stage":"1C XX"},{"short":44.5,"mitotic":2.8,"stage":"1C XX"},{"short":50.8,"mitotic":9.6,"stage":"1C XX"},{"short":43.2,"mitotic":8.9,"stage":"1C XX"},{"short":41.6,"mitotic":8.0,"stage":"1C XX"},{"short":42.4,"mitotic":4.7,"stage":"1C XX"},{"short":41.6,"mitotic":4.0,"stage":"1C XX"},{"short":49.5,"mitotic":2.6,"stage":"1C XX"},
{"short":48.7,"mitotic":2.5,"stage":"1C XX"},{"short":47.6,"mitotic":2.3,"stage":"1C XX"},{"short":46.9,"mitotic":2.6,"stage":"1C XX"},{"short":45.9,"mitotic":2.4,"stage":"1C XX"},{"short":44.9,"mitotic":2.5,"stage":"1C XX"},{"short":43.9,"mitotic":2.6,"stage":"1C XX"},{"short":45.3,"mitotic":3.6,"stage":"1C XX"},{"short":47.3,"mitotic":3.8,"stage":"1C XX"},{"short":48.9,"mitotic":3.2,"stage":"1C XX"},{"short":46.0,"mitotic":1.9,"stage":"1C XX"},
{"short":42.5,"mitotic":2.2,"stage":"1C XX"},{"short":41.1,"mitotic":2.5,"stage":"1C XX"},{"short":44.0,"mitotic":1.8,"stage":"1C XX"},
{"short":41.6,"mitotic":18.4,"stage":"1C XY"},{"short":40.9,"mitotic":27.6,"stage":"1C XY"},{"short":34.1,"mitotic":14.0,"stage":"1C XY"},{"short":37.4,"mitotic":11.8,"stage":"1C XY"},{"short":39.4,"mitotic":8.1,"stage":"1C XY"},{"short":35.7,"mitotic":5.6,"stage":"1C XY"},{"short":36.0,"mitotic":5.1,"stage":"1C XY"},{"short":40.8,"mitotic":3.6,"stage":"1C XY"},{"short":36.6,"mitotic":4.3,"stage":"1C XY"},{"short":36.2,"mitotic":3.4,"stage":"1C XY"},
{"short":37.6,"mitotic":2.9,"stage":"1C XY"},{"short":37.4,"mitotic":2.3,"stage":"1C XY"},{"short":37.1,"mitotic":1.8,"stage":"1C XY"},{"short":36.7,"mitotic":1.8,"stage":"1C XY"},{"short":36.3,"mitotic":1.5,"stage":"1C XY"},{"short":34.5,"mitotic":2.2,"stage":"1C XY"},{"short":42.9,"mitotic":11.2,"stage":"1C XY"},{"short":59.7,"mitotic":4.4,"stage":"1C XY"},{"short":58.4,"mitotic":4.5,"stage":"1C XY"},{"short":43.5,"mitotic":3.3,"stage":"1C XY"},
{"short":42.9,"mitotic":3.0,"stage":"1C XY"},{"short":42.4,"mitotic":3.4,"stage":"1C XY"},{"short":41.9,"mitotic":2.6,"stage":"1C XY"},{"short":41.8,"mitotic":1.8,"stage":"1C XY"},{"short":44.7,"mitotic":4.0,"stage":"1C XY"},{"short":43.8,"mitotic":4.6,"stage":"1C XY"},{"short":41.6,"mitotic":4.6,"stage":"1C XY"},{"short":41.6,"mitotic":5.5,"stage":"1C XY"},{"short":49.2,"mitotic":3.0,"stage":"1C XY"},{"short":48.0,"mitotic":2.9,"stage":"1C XY"},
{"short":46.6,"mitotic":3.1,"stage":"1C XY"},{"short":45.6,"mitotic":2.8,"stage":"1C XY"},{"short":44.3,"mitotic":3.2,"stage":"1C XY"},{"short":43.2,"mitotic":3.4,"stage":"1C XY"},{"short":47.8,"mitotic":4.2,"stage":"1C XY"},{"short":50.1,"mitotic":2.3,"stage":"1C XY"},{"short":42.0,"mitotic":3.8,"stage":"1C XY"},{"short":41.5,"mitotic":1.6,"stage":"1C XY"},{"short":43.5,"mitotic":2.0,"stage":"1C XY"},
{"short":35.5,"mitotic":51.1,"stage":"2C XX"},{"short":46.0,"mitotic":34.1,"stage":"2C XX"},{"short":46.6,"mitotic":29.8,"stage":"2C XX"},{"short":53.4,"mitotic":19.2,"stage":"2C XX"},{"short":56.0,"mitotic":17.0,"stage":"2C XX"},{"short":58.0,"mitotic":16.1,"stage":"2C XX"},{"short":59.0,"mitotic":13.9,"stage":"2C XX"},{"short":55.2,"mitotic":13.5,"stage":"2C XX"},{"short":62.8,"mitotic":10.9,"stage":"2C XX"},{"short":58.9,"mitotic":12.0,"stage":"2C XX"},
{"short":56.4,"mitotic":12.3,"stage":"2C XX"},{"short":57.9,"mitotic":10.9,"stage":"2C XX"},{"short":54.6,"mitotic":11.2,"stage":"2C XX"},{"short":52.8,"mitotic":11.2,"stage":"2C XX"},{"short":54.7,"mitotic":10.2,"stage":"2C XX"},{"short":59.0,"mitotic":10.2,"stage":"2C XX"},{"short":49.0,"mitotic":12.4,"stage":"2C XX"},{"short":59.8,"mitotic":9.4,"stage":"2C XX"},{"short":56.3,"mitotic":8.3,"stage":"2C XX"},{"short":55.1,"mitotic":9.4,"stage":"2C XX"},
{"short":53.9,"mitotic":9.6,"stage":"2C XX"},{"short":56.0,"mitotic":6.7,"stage":"2C XX"},{"short":61.0,"mitotic":10.3,"stage":"2C XX"},{"short":59.1,"mitotic":9.9,"stage":"2C XX"},{"short":57.9,"mitotic":9.4,"stage":"2C XX"},{"short":56.2,"mitotic":9.8,"stage":"2C XX"},{"short":55.3,"mitotic":8.5,"stage":"2C XX"},{"short":53.9,"mitotic":9.0,"stage":"2C XX"},{"short":52.8,"mitotic":8.4,"stage":"2C XX"},{"short":58.7,"mitotic":8.7,"stage":"2C XX"},
{"short":60.0,"mitotic":11.2,"stage":"2C XX"},{"short":56.8,"mitotic":11.0,"stage":"2C XX"},{"short":54.4,"mitotic":10.6,"stage":"2C XX"},
{"short":52.2,"mitotic":20.4,"stage":"2C XY"},{"short":54.8,"mitotic":16.4,"stage":"2C XY"},{"short":53.0,"mitotic":14.5,"stage":"2C XY"},{"short":62.8,"mitotic":12.6,"stage":"2C XY"},{"short":60.2,"mitotic":11.8,"stage":"2C XY"},{"short":55.6,"mitotic":12.4,"stage":"2C XY"},{"short":57.1,"mitotic":11.5,"stage":"2C XY"},{"short":55.7,"mitotic":10.5,"stage":"2C XY"},{"short":61.0,"mitotic":8.8,"stage":"2C XY"},{"short":60.9,"mitotic":8.5,"stage":"2C XY"},
{"short":58.0,"mitotic":8.9,"stage":"2C XY"},{"short":54.2,"mitotic":8.0,"stage":"2C XY"},{"short":53.6,"mitotic":9.5,"stage":"2C XY"},{"short":54.2,"mitotic":7.4,"stage":"2C XY"},{"short":52.8,"mitotic":7.2,"stage":"2C XY"},{"short":51.7,"mitotic":7.0,"stage":"2C XY"},{"short":60.3,"mitotic":9.8,"stage":"2C XY"},{"short":59.5,"mitotic":9.2,"stage":"2C XY"},{"short":58.8,"mitotic":10.3,"stage":"2C XY"},{"short":57.6,"mitotic":9.9,"stage":"2C XY"},
{"short":56.8,"mitotic":10.1,"stage":"2C XY"},{"short":55.9,"mitotic":9.0,"stage":"2C XY"},{"short":54.5,"mitotic":9.9,"stage":"2C XY"},{"short":53.5,"mitotic":8.9,"stage":"2C XY"},{"short":57.0,"mitotic":8.3,"stage":"2C XY"},{"short":58.3,"mitotic":7.8,"stage":"2C XY"},{"short":61.5,"mitotic":9.5,"stage":"2C XY"},{"short":62.0,"mitotic":10.1,"stage":"2C XY"},{"short":60.8,"mitotic":10.6,"stage":"2C XY"},
{"short":52.8,"mitotic":31.5,"stage":"4C XX"},{"short":48.1,"mitotic":38.4,"stage":"4C XX"},{"short":52.0,"mitotic":37.1,"stage":"4C XX"},{"short":42.6,"mitotic":37.0,"stage":"4C XX"},{"short":52.7,"mitotic":32.8,"stage":"4C XX"},{"short":56.9,"mitotic":22.2,"stage":"4C XX"},{"short":57.1,"mitotic":18.5,"stage":"4C XX"},{"short":61.0,"mitotic":17.3,"stage":"4C XX"},{"short":56.9,"mitotic":15.0,"stage":"4C XX"},{"short":58.6,"mitotic":11.1,"stage":"4C XX"},
{"short":51.6,"mitotic":11.5,"stage":"4C XX"},{"short":53.0,"mitotic":10.3,"stage":"4C XX"},{"short":50.9,"mitotic":10.5,"stage":"4C XX"},{"short":48.8,"mitotic":11.8,"stage":"4C XX"},{"short":45.3,"mitotic":11.7,"stage":"4C XX"},{"short":47.2,"mitotic":11.4,"stage":"4C XX"},{"short":49.1,"mitotic":11.1,"stage":"4C XX"},{"short":47.0,"mitotic":10.8,"stage":"4C XX"},{"short":48.4,"mitotic":10.7,"stage":"4C XX"},{"short":54.9,"mitotic":8.1,"stage":"4C XX"},
{"short":52.6,"mitotic":9.4,"stage":"4C XX"},{"short":54.3,"mitotic":7.0,"stage":"4C XX"},{"short":53.2,"mitotic":7.4,"stage":"4C XX"},{"short":45.9,"mitotic":8.9,"stage":"4C XX"},{"short":45.3,"mitotic":7.9,"stage":"4C XX"},{"short":55.6,"mitotic":9.7,"stage":"4C XX"},{"short":54.0,"mitotic":8.4,"stage":"4C XX"},{"short":52.4,"mitotic":9.9,"stage":"4C XX"},{"short":50.9,"mitotic":9.2,"stage":"4C XX"},{"short":49.8,"mitotic":8.5,"stage":"4C XX"},
{"short":51.7,"mitotic":11.0,"stage":"4C XX"},{"short":57.3,"mitotic":9.0,"stage":"4C XX"},{"short":53.0,"mitotic":7.0,"stage":"4C XX"},{"short":50.5,"mitotic":7.8,"stage":"4C XX"},
{"short":48.1,"mitotic":39.8,"stage":"4C XY"},{"short":47.1,"mitotic":37.6,"stage":"4C XY"},{"short":45.2,"mitotic":36.1,"stage":"4C XY"},{"short":46.6,"mitotic":35.3,"stage":"4C XY"},{"short":39.2,"mitotic":36.2,"stage":"4C XY"},{"short":56.5,"mitotic":26.3,"stage":"4C XY"},{"short":60.9,"mitotic":14.3,"stage":"4C XY"},{"short":57.3,"mitotic":11.6,"stage":"4C XY"},{"short":47.0,"mitotic":12.0,"stage":"4C XY"},{"short":46.2,"mitotic":11.9,"stage":"4C XY"},
{"short":45.5,"mitotic":11.9,"stage":"4C XY"},{"short":43.6,"mitotic":12.8,"stage":"4C XY"},{"short":42.8,"mitotic":12.8,"stage":"4C XY"},{"short":48.1,"mitotic":11.3,"stage":"4C XY"},{"short":48.5,"mitotic":11.1,"stage":"4C XY"},{"short":49.4,"mitotic":10.6,"stage":"4C XY"},{"short":58.7,"mitotic":9.5,"stage":"4C XY"},{"short":56.9,"mitotic":8.8,"stage":"4C XY"},{"short":56.6,"mitotic":9.1,"stage":"4C XY"},{"short":55.1,"mitotic":7.3,"stage":"4C XY"},
{"short":51.1,"mitotic":8.8,"stage":"4C XY"},{"short":50.8,"mitotic":8.0,"stage":"4C XY"},{"short":50.2,"mitotic":9.5,"stage":"4C XY"},{"short":58.1,"mitotic":9.9,"stage":"4C XY"},{"short":55.0,"mitotic":9.3,"stage":"4C XY"},{"short":52.9,"mitotic":8.9,"stage":"4C XY"},{"short":51.3,"mitotic":10.0,"stage":"4C XY"},{"short":50.0,"mitotic":10.4,"stage":"4C XY"},{"short":56.5,"mitotic":10.6,"stage":"4C XY"},{"short":59.6,"mitotic":8.9,"stage":"4C XY"},
{"short":35.9,"mitotic":45.9,"stage":"8C XX"},{"short":36.2,"mitotic":38.1,"stage":"8C XX"},{"short":56.9,"mitotic":24.6,"stage":"8C XX"},{"short":58.1,"mitotic":23.7,"stage":"8C XX"},{"short":52.2,"mitotic":19.1,"stage":"8C XX"},{"short":61.4,"mitotic":15.2,"stage":"8C XX"},{"short":51.7,"mitotic":14.2,"stage":"8C XX"},{"short":63.2,"mitotic":12.0,"stage":"8C XX"},{"short":53.1,"mitotic":10.8,"stage":"8C XX"},{"short":31.6,"mitotic":18.9,"stage":"8C XX"},
{"short":37.0,"mitotic":15.3,"stage":"8C XX"},{"short":60.4,"mitotic":9.6,"stage":"8C XX"},{"short":56.3,"mitotic":7.9,"stage":"8C XX"},{"short":59.0,"mitotic":9.6,"stage":"8C XX"},{"short":57.4,"mitotic":9.2,"stage":"8C XX"},{"short":58.2,"mitotic":7.5,"stage":"8C XX"},{"short":57.7,"mitotic":6.6,"stage":"8C XX"},{"short":49.0,"mitotic":9.2,"stage":"8C XX"},{"short":48.1,"mitotic":9.4,"stage":"8C XX"},{"short":45.2,"mitotic":8.6,"stage":"8C XX"},
{"short":46.5,"mitotic":9.1,"stage":"8C XX"},{"short":60.9,"mitotic":9.2,"stage":"8C XX"},{"short":59.0,"mitotic":8.2,"stage":"8C XX"},{"short":56.3,"mitotic":8.9,"stage":"8C XX"},{"short":54.0,"mitotic":7.6,"stage":"8C XX"},{"short":52.2,"mitotic":6.6,"stage":"8C XX"},{"short":50.5,"mitotic":6.9,"stage":"8C XX"},{"short":58.6,"mitotic":10.8,"stage":"8C XX"},{"short":61.8,"mitotic":8.4,"stage":"8C XX"},{"short":49.5,"mitotic":7.4,"stage":"8C XX"},
{"short":32.9,"mitotic":50.0,"stage":"8C XY"},{"short":32.6,"mitotic":44.2,"stage":"8C XY"},{"short":33.1,"mitotic":36.0,"stage":"8C XY"},{"short":53.2,"mitotic":29.0,"stage":"8C XY"},{"short":55.1,"mitotic":26.2,"stage":"8C XY"},{"short":57.3,"mitotic":23.1,"stage":"8C XY"},{"short":61.1,"mitotic":15.0,"stage":"8C XY"},{"short":64.0,"mitotic":13.6,"stage":"8C XY"},{"short":52.4,"mitotic":13.0,"stage":"8C XY"},{"short":62.0,"mitotic":12.1,"stage":"8C XY"},
{"short":61.8,"mitotic":11.4,"stage":"8C XY"},{"short":63.3,"mitotic":10.9,"stage":"8C XY"},{"short":54.3,"mitotic":11.8,"stage":"8C XY"},{"short":59.4,"mitotic":11.1,"stage":"8C XY"},{"short":53.8,"mitotic":10.8,"stage":"8C XY"},{"short":45.3,"mitotic":11.4,"stage":"8C XY"},{"short":31.4,"mitotic":17.1,"stage":"8C XY"},{"short":33.0,"mitotic":16.4,"stage":"8C XY"},{"short":31.4,"mitotic":14.2,"stage":"8C XY"},{"short":37.4,"mitotic":11.1,"stage":"8C XY"},
{"short":57.5,"mitotic":8.6,"stage":"8C XY"},{"short":53.3,"mitotic":8.6,"stage":"8C XY"},{"short":52.2,"mitotic":8.8,"stage":"8C XY"},{"short":52.0,"mitotic":7.7,"stage":"8C XY"},{"short":50.8,"mitotic":6.7,"stage":"8C XY"},{"short":49.6,"mitotic":6.4,"stage":"8C XY"},{"short":46.8,"mitotic":7.9,"stage":"8C XY"},{"short":45.9,"mitotic":7.5,"stage":"8C XY"},{"short":48.4,"mitotic":7.2,"stage":"8C XY"},{"short":47.8,"mitotic":6.4,"stage":"8C XY"},
{"short":46.7,"mitotic":6.2,"stage":"8C XY"},{"short":61.3,"mitotic":8.9,"stage":"8C XY"},{"short":59.8,"mitotic":7.9,"stage":"8C XY"},{"short":57.2,"mitotic":7.9,"stage":"8C XY"},{"short":55.4,"mitotic":7.1,"stage":"8C XY"},{"short":53.1,"mitotic":6.2,"stage":"8C XY"},{"short":51.5,"mitotic":6.0,"stage":"8C XY"},{"short":62.4,"mitotic":9.8,"stage":"8C XY"},{"short":60.4,"mitotic":11.5,"stage":"8C XY"},{"short":48.8,"mitotic":7.0,"stage":"8C XY"},
{"short":28.0,"mitotic":42.9,"stage":"64C XX"},{"short":31.9,"mitotic":38.2,"stage":"64C XX"},{"short":40.7,"mitotic":36.7,"stage":"64C XX"},{"short":51.9,"mitotic":17.3,"stage":"64C XX"},{"short":30.7,"mitotic":22.2,"stage":"64C XX"},{"short":50.2,"mitotic":12.1,"stage":"64C XX"},{"short":44.1,"mitotic":10.0,"stage":"64C XX"},{"short":43.2,"mitotic":10.0,"stage":"64C XX"},{"short":39.6,"mitotic":11.4,"stage":"64C XX"},{"short":37.6,"mitotic":11.4,"stage":"64C XX"},
{"short":34.2,"mitotic":11.4,"stage":"64C XX"},{"short":33.0,"mitotic":11.6,"stage":"64C XX"},{"short":32.5,"mitotic":10.6,"stage":"64C XX"},{"short":35.3,"mitotic":10.4,"stage":"64C XX"},{"short":31.4,"mitotic":10.0,"stage":"64C XX"},{"short":37.7,"mitotic":9.5,"stage":"64C XX"},{"short":39.2,"mitotic":8.9,"stage":"64C XX"},{"short":37.0,"mitotic":8.1,"stage":"64C XX"},{"short":36.0,"mitotic":9.2,"stage":"64C XX"},{"short":35.2,"mitotic":9.0,"stage":"64C XX"},
{"short":31.6,"mitotic":8.8,"stage":"64C XX"},{"short":35.0,"mitotic":7.5,"stage":"64C XX"},{"short":32.7,"mitotic":7.4,"stage":"64C XX"},{"short":39.7,"mitotic":7.7,"stage":"64C XX"},{"short":39.3,"mitotic":7.2,"stage":"64C XX"},{"short":39.1,"mitotic":6.9,"stage":"64C XX"},{"short":39.5,"mitotic":6.0,"stage":"64C XX"},{"short":40.9,"mitotic":5.7,"stage":"64C XX"},{"short":36.3,"mitotic":5.9,"stage":"64C XX"},{"short":54.5,"mitotic":6.7,"stage":"64C XX"},
{"short":56.9,"mitotic":5.7,"stage":"64C XX"},{"short":55.7,"mitotic":5.8,"stage":"64C XX"},{"short":54.6,"mitotic":6.0,"stage":"64C XX"},{"short":53.1,"mitotic":6.1,"stage":"64C XX"},{"short":52.0,"mitotic":5.5,"stage":"64C XX"},{"short":56.3,"mitotic":4.0,"stage":"64C XX"},{"short":55.5,"mitotic":4.0,"stage":"64C XX"},{"short":54.6,"mitotic":4.0,"stage":"64C XX"},{"short":59.0,"mitotic":4.9,"stage":"64C XX"},{"short":59.5,"mitotic":4.5,"stage":"64C XX"},
{"short":58.1,"mitotic":2.7,"stage":"64C XX"},{"short":53.6,"mitotic":3.4,"stage":"64C XX"},{"short":51.9,"mitotic":3.9,"stage":"64C XX"},{"short":50.8,"mitotic":3.3,"stage":"64C XX"},{"short":52.0,"mitotic":2.8,"stage":"64C XX"},{"short":50.8,"mitotic":4.7,"stage":"64C XX"},{"short":49.6,"mitotic":4.3,"stage":"64C XX"},{"short":49.0,"mitotic":3.9,"stage":"64C XX"},{"short":48.4,"mitotic":4.0,"stage":"64C XX"},{"short":47.8,"mitotic":4.4,"stage":"64C XX"},
{"short":46.8,"mitotic":4.5,"stage":"64C XX"},{"short":46.2,"mitotic":4.3,"stage":"64C XX"},{"short":45.6,"mitotic":4.9,"stage":"64C XX"},{"short":47.4,"mitotic":6.8,"stage":"64C XX"},{"short":46.4,"mitotic":6.7,"stage":"64C XX"},{"short":45.6,"mitotic":5.6,"stage":"64C XX"},{"short":46.5,"mitotic":5.3,"stage":"64C XX"},{"short":45.0,"mitotic":4.4,"stage":"64C XX"},{"short":43.6,"mitotic":6.3,"stage":"64C XX"},{"short":42.7,"mitotic":6.8,"stage":"64C XX"},
{"short":42.2,"mitotic":6.2,"stage":"64C XX"},{"short":58.0,"mitotic":2.8,"stage":"64C XX"},{"short":54.9,"mitotic":4.1,"stage":"64C XX"},{"short":55.9,"mitotic":5.4,"stage":"64C XX"},{"short":53.7,"mitotic":5.6,"stage":"64C XX"},{"short":52.5,"mitotic":6.1,"stage":"64C XX"},{"short":59.2,"mitotic":5.0,"stage":"64C XX"},
{"short":34.3,"mitotic":38.4,"stage":"64C XY"},{"short":35.6,"mitotic":37.6,"stage":"64C XY"},{"short":33.6,"mitotic":24.7,"stage":"64C XY"},{"short":52.3,"mitotic":13.6,"stage":"64C XY"},{"short":40.7,"mitotic":11.8,"stage":"64C XY"},{"short":36.0,"mitotic":11.3,"stage":"64C XY"},{"short":34.1,"mitotic":10.4,"stage":"64C XY"},{"short":33.1,"mitotic":9.9,"stage":"64C XY"},{"short":37.3,"mitotic":9.7,"stage":"64C XY"},{"short":33.9,"mitotic":9.8,"stage":"64C XY"},
{"short":38.6,"mitotic":7.9,"stage":"64C XY"},{"short":38.1,"mitotic":8.1,"stage":"64C XY"},{"short":37.7,"mitotic":7.9,"stage":"64C XY"},{"short":33.1,"mitotic":8.2,"stage":"64C XY"},{"short":39.9,"mitotic":7.0,"stage":"64C XY"},{"short":38.8,"mitotic":5.7,"stage":"64C XY"},{"short":60.0,"mitotic":7.3,"stage":"64C XY"},{"short":58.6,"mitotic":6.6,"stage":"64C XY"},{"short":57.5,"mitotic":7.2,"stage":"64C XY"},{"short":56.9,"mitotic":7.1,"stage":"64C XY"},
{"short":56.0,"mitotic":7.4,"stage":"64C XY"},{"short":56.3,"mitotic":6.0,"stage":"64C XY"},{"short":53.6,"mitotic":6.2,"stage":"64C XY"},{"short":52.6,"mitotic":6.4,"stage":"64C XY"},{"short":57.1,"mitotic":3.0,"stage":"64C XY"},{"short":55.7,"mitotic":4.7,"stage":"64C XY"},{"short":54.2,"mitotic":3.3,"stage":"64C XY"},{"short":52.6,"mitotic":3.5,"stage":"64C XY"},{"short":52.9,"mitotic":4.4,"stage":"64C XY"},{"short":52.0,"mitotic":4.1,"stage":"64C XY"},
{"short":51.1,"mitotic":3.6,"stage":"64C XY"},{"short":50.5,"mitotic":3.4,"stage":"64C XY"},{"short":50.0,"mitotic":4.0,"stage":"64C XY"},{"short":47.8,"mitotic":5.3,"stage":"64C XY"},{"short":45.3,"mitotic":5.0,"stage":"64C XY"},{"short":44.2,"mitotic":5.3,"stage":"64C XY"},{"short":43.5,"mitotic":4.9,"stage":"64C XY"},{"short":42.1,"mitotic":7.4,"stage":"64C XY"},{"short":41.9,"mitotic":6.2,"stage":"64C XY"}
   ]},
   "mark":{"type":"point","filled":true,"opacity":1,"strokeWidth":0,"size":45,"shape":"M-0.65,-0.75L0.65,-0.75Q1,-0.75 1,-0.4L1,0.4Q1,0.75 0.65,0.75L-0.65,0.75Q-1,0.75 -1,0.4L-1,-0.4Q-1,-0.75 -0.65,-0.75Z"},
   "encoding":{
    "x":{"field":"short","type":"quantitative","scale":{"domain":[23.4,66.6],"reverse":true,"nice":false,"zero":false},
     "axis":{"title":"short range contacts (%)","values":[30,40,50,60],"labelAngle":180,"labelFontSize":28.5,"labelPadding":8.5,"titleFontSize":36,"titleAngle":180,"titleBaseline":"bottom","titlePadding":10}},
    "y":{"field":"mitotic","type":"quantitative","scale":{"domain":[-2,52],"nice":false,"zero":false},
     "axis":{"orient":"right","title":"mitotic contacts (%)","values":[0,10,20,30,40,50],"labelAngle":270,"labelFontSize":29.5,"labelPadding":2,"titleFontSize":36,"titleAngle":270,"titleBaseline":"top","titlePadding":4}},
    "color":{"field":"stage","type":"nominal",
     "scale":{"domain":["Oocyte","1C XX","1C XY","2C XX","2C XY","4C XX","4C XY","8C XX","8C XY"," ","64C XX","64C XY"],"range":["#666666","#ed1c24","#f03c3c","#fdc70c","#f2e600","#3cb44b","#8cc63f","#5bc5dc","#a8dcea","#ffffff","#7d4e9f","#d6a2ca"]},
     "legend":{"orient":"top-left","offset":0,"direction":"horizontal","title":" ","titleFontSize":1,"titlePadding":114,"padding":15.4,"labelFontSize":19,"labelLimit":300,"labelFont":"Liberation Sans","labelColor":"black","labelOffset":-9.5,"columnPadding":4.3,"symbolType":"M-0.65,-0.85L0.65,-0.85Q1,-0.85 1,-0.5L1,0.5Q1,0.85 0.65,0.85L-0.65,0.85Q-1,0.85 -1,0.5L-1,-0.5Q-1,-0.85 -0.65,-0.85Z","symbolSize":150,"symbolOpacity":1,"symbolStrokeWidth":0,"strokeColor":"black","fillColor":"white",
      "encoding":{"labels":{"angle":{"value":270},"dx":{"value":39},"fontSize":{"value":19}},"symbols":{"size":{"value":150}},"legend":{"strokeWidth":{"value":2}}}}}
   }},
   {"data":{"values":[{"short":32.1,"mitotic":17.3,"stage":"16C"},{"short":58.9,"mitotic":8.1,"stage":"16C"}]},
    "mark":{"type":"point","filled":true,"opacity":1,"strokeWidth":0,"size":45,"color":"#2d4b9b","shape":"M-0.65,-0.75L0.65,-0.75Q1,-0.75 1,-0.4L1,0.4Q1,0.75 0.65,0.75L-0.65,0.75Q-1,0.75 -1,0.4L-1,-0.4Q-1,-0.75 -0.65,-0.75Z"},
    "encoding":{"x":{"field":"short","type":"quantitative"},"y":{"field":"mitotic","type":"quantitative"}}},
   {"data":{"values":[{"label":"late S","short":61.1,"mitotic":5.35},{"label":"early S","short":49.23,"mitotic":2.19},{"label":"G1","short":33.07,"mitotic":3.95},{"label":"M","short":27.98,"mitotic":45.08}]},
    "mark":{"type":"text","angle":270,"fontWeight":"bold","fontSize":26,"font":"Liberation Sans","color":"black","align":"center","baseline":"middle"},
    "encoding":{"x":{"field":"short","type":"quantitative"},"y":{"field":"mitotic","type":"quantitative"},"text":{"field":"label"}}}
   ]
  }
 ],
 "spacing":0,
 "bounds":"flush",
 "resolve":{"scale":{"x":"independent","y":"independent","color":"independent"},"legend":{"color":"independent"}}
}
]
}
